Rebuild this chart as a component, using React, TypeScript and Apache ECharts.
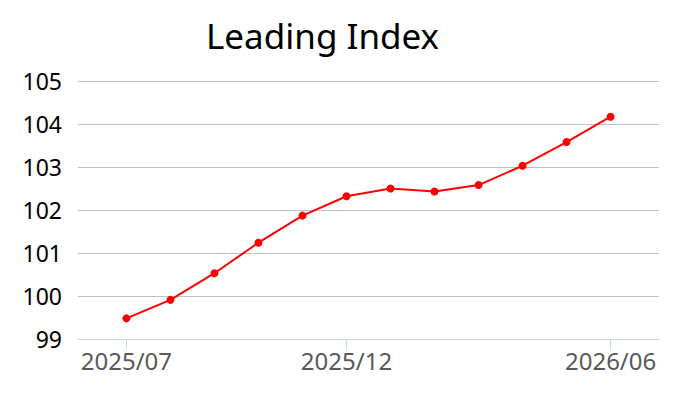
import React, { useEffect, useRef } from "react";
import * as echarts from "echarts";

const months = [
  "2025/07", "2025/08", "2025/09", "2025/10", "2025/11", "2025/12",
  "2026/01", "2026/02", "2026/03", "2026/04", "2026/05", "2026/06",
];
const leadingIndex = [
  99.48, 99.91, 100.53, 101.24, 101.87, 102.32,
  102.5, 102.43, 102.58, 103.03, 103.58, 104.17,
];
const labeledMonths = ["2025/07", "2025/12", "2026/06"];
const yTicks = [99, 100, 101, 102, 103, 104, 105];

const FONT = "'Noto Sans', 'DejaVu Sans', sans-serif";

export default function App() {
  const ref = useRef<HTMLDivElement>(null);
  useEffect(() => {
    if (!ref.current) return;
    const chart = echarts.init(ref.current, null, { renderer: "svg" });
    const labelIdx = labeledMonths.map((m) => months.indexOf(m));
    chart.setOption({
      animation: false,
      backgroundColor: "#ffffff",
      title: {
        text: "Leading Index",
        left: 201,
        top: 13,
        textStyle: { fontFamily: FONT, fontSize: 35, fontWeight: "normal", color: "#000000" },
      },
      grid: { left: 78, right: 41, top: 81, bottom: 61, containLabel: false },
      xAxis: {
        type: "value",
        min: -1.1,
        max: 12.1,
        splitLine: { show: false },
        axisLine: { show: true, lineStyle: { color: "#ccd6eb", width: 1 } },
        axisTick: { show: true, customValues: labelIdx, length: 10, lineStyle: { color: "#ccd6eb" } },
        axisLabel: {
          customValues: labelIdx,
          formatter: (v: number) => months[Math.round(v)] ?? "",
          fontFamily: FONT,
          fontSize: 24,
          color: "#595959",
          margin: 9,
        },
      },
      yAxis: {
        type: "value",
        min: yTicks[0],
        max: yTicks[yTicks.length - 1],
        interval: 1,
        axisLine: { show: false },
        axisTick: { show: false },
        splitLine: { show: true, lineStyle: { color: "#c0c0c0", width: 1 } },
        axisLabel: { fontFamily: FONT, fontSize: 23, color: "#000000", margin: 16 },
      },
      series: [
        {
          type: "line",
          data: leadingIndex.map((v, i) => [i, v]),
          symbol: "circle",
          symbolSize: 8,
          lineStyle: { color: "#ff0000", width: 2 },
          itemStyle: { color: "#ff0000" },
        },
      ],
    });
    return () => chart.dispose();
  }, []);
  return (
    <div
      ref={ref}
      style={{ position: "fixed", left: 0, top: 0, width: 700, height: 400, background: "#fff" }}
    />
  );
}
